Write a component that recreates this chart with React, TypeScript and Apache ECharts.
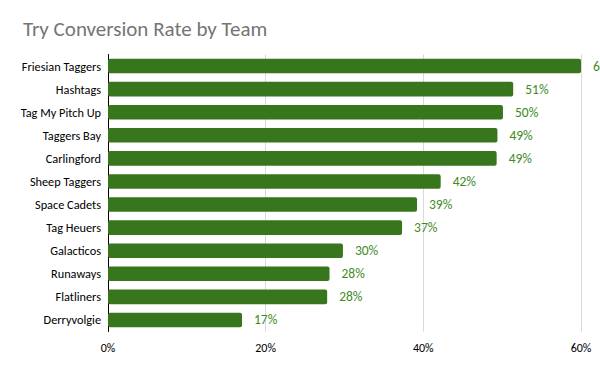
import React, { useEffect, useRef } from "react";
import * as echarts from "echarts";

const teams = [
  "Friesian Taggers",
  "Hashtags",
  "Tag My Pitch Up",
  "Taggers Bay",
  "Carlingford",
  "Sheep Taggers",
  "Space Cadets",
  "Tag Heuers",
  "Galacticos",
  "Runaways",
  "Flatliners",
  "Derryvolgie",
];
const conversionRates = [60, 51.4, 50.1, 49.4, 49.3, 42.2, 39.2, 37.3, 29.8, 28.1, 27.8, 17.0];
const axisTicks = [0, 20, 40, 60];

const FONT = "Carlito, 'Liberation Sans', 'DejaVu Sans', sans-serif";

export default function App() {
  const ref = useRef<HTMLDivElement>(null);
  useEffect(() => {
    if (!ref.current) return;
    const chart = echarts.init(ref.current, undefined, { renderer: "svg" });
    chart.setOption({
      animation: false,
      backgroundColor: "#ffffff",
      title: {
        text: "Try Conversion Rate by Team",
        left: 18,
        top: 13,
        textStyle: { color: "#757575", fontSize: 21, fontWeight: "normal", fontFamily: FONT },
      },
      grid: { left: 108, right: 19, top: 54.5, bottom: 39.5, containLabel: false },
      xAxis: {
        type: "value",
        min: axisTicks[0],
        max: axisTicks[axisTicks.length - 1],
        interval: 20,
        axisLine: { show: false },
        axisTick: { show: false },
        splitLine: { show: true, lineStyle: { color: "#d9d9d9", width: 1 } },
        axisLabel: {
          formatter: (v: number) => `${v}%`,
          color: "#000000",
          fontSize: 12,
          fontFamily: FONT,
          margin: 10,
        },
      },
      yAxis: {
        type: "category",
        data: teams,
        inverse: true,
        axisLine: { show: true, lineStyle: { color: "#000000", width: 1 } },
        axisTick: { show: false },
        axisLabel: { color: "#000000", fontSize: 12.3, fontFamily: FONT, margin: 7 },
      },
      series: [
        {
          type: "bar",
          data: conversionRates,
          barCategoryGap: "37%",
          itemStyle: { color: "#38761d", borderRadius: 2 },
          label: {
            show: true,
            position: "right",
            distance: 12,
            color: "#3f8a1f",
            fontSize: 13.5,
            fontFamily: FONT,
            formatter: (p: any) => `${Math.round(p.value)}%`,
          },
        },
      ],
    });
    return () => chart.dispose();
  }, []);
  return (
    <div
      ref={ref}
      style={{ position: "fixed", left: 0, top: 0, width: 600, height: 371, overflow: "hidden" }}
    />
  );
}
